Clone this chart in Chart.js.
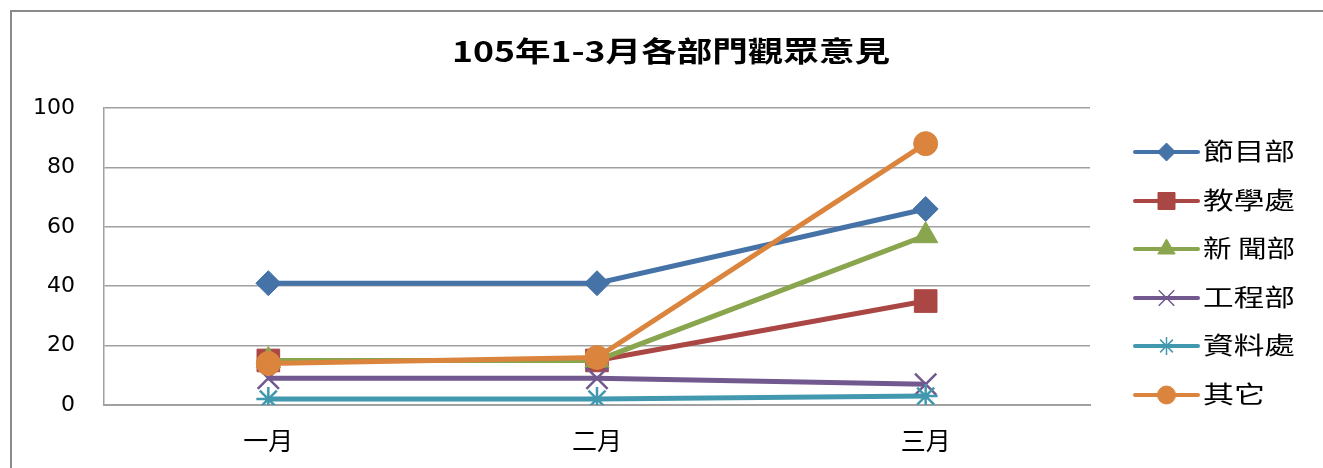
<!DOCTYPE html>
<html>
<head>
<meta charset="utf-8">
<script src="https://cdn.jsdelivr.net/npm/chart.js@4"></script>
<style>
html,body{margin:0;padding:0;background:#fff;overflow:hidden;}
#wrap{position:absolute;left:0;top:0;width:1323px;height:468px;}
</style>
</head>
<body>
<div id="wrap"><canvas id="c" width="1323" height="468"></canvas></div>
<script>
const titleText = '105年1-3月各部門觀眾意見';
const categories = ['一月', '二月', '三月'];
const seriesNames = ['節目部', '教學處', '新 聞部', '工程部', '資料處', '其它'];
const programDept = [41, 41, 66];
const teachingDept = [15, 15, 35];
const newsDept = [15, 15, 57];
const engineeringDept = [9, 9, 7];
const dataDept = [2, 2, 3];
const otherDept = [14, 16, 88];
const yTicks = [0, 20, 40, 60, 80, 100];

const seriesValues = [programDept, teachingDept, newsDept, engineeringDept, dataDept, otherDept];
const colors = ['#4572A7', '#AA4643', '#89A54E', '#71588F', '#4198AF', '#DB843D'];
const pointStyles = ['rectRot', 'rect', 'triangle', 'crossRot', 'star', 'circle'];
const pointRadii = [12.5, 16, 14, 15, 12, 12];
const legendRadii = [9, 12, 10, 11, 9, 9];

const datasets = seriesNames.map((n, i) => ({
  label: n,
  data: seriesValues[i],
  borderColor: colors[i],
  backgroundColor: colors[i],
  borderWidth: 5,
  pointStyle: pointStyles[i],
  pointRadius: pointRadii[i],
  pointHoverRadius: pointRadii[i],
  pointBorderWidth: (pointStyles[i] === 'crossRot' || pointStyles[i] === 'star') ? 2.5 : 1,
  pointBorderColor: colors[i],
  pointBackgroundColor: colors[i],
  tension: 0,
  order: seriesNames.length - 1 - i
}));

const customPlugin = {
  id: 'custom',
  afterDraw(chart) {
    const ctx = chart.ctx;
    ctx.save();
    // frame
    ctx.strokeStyle = '#8a8a8a';
    ctx.lineWidth = 2;
    ctx.beginPath();
    ctx.moveTo(11, 468);
    ctx.lineTo(11, 11);
    ctx.lineTo(1323, 11);
    ctx.stroke();
    // title
    ctx.fillStyle = '#000';
    ctx.font = 'bold 28px "Noto Sans CJK TC", sans-serif';
    ctx.textBaseline = 'middle';
    ctx.textAlign = 'left';
    const tw = ctx.measureText(titleText).width;
    const sx = 438 / tw;
    ctx.save();
    ctx.translate(452, 51);
    ctx.scale(sx, 1);
    ctx.fillText(titleText, 0, 0);
    ctx.restore();
    // legend
    const x0 = 1135, x1 = 1198, tx = 1203;
    const rowY = [152, 201, 249, 298, 346, 395];
    seriesNames.forEach((n, i) => {
      const y = rowY[i];
      ctx.strokeStyle = colors[i];
      ctx.lineWidth = 4;
      ctx.lineCap = 'round';
      ctx.beginPath();
      ctx.moveTo(x0, y);
      ctx.lineTo(x1, y);
      ctx.stroke();
      ctx.lineCap = 'butt';
      ctx.fillStyle = colors[i];
      ctx.lineWidth = (pointStyles[i] === 'crossRot' || pointStyles[i] === 'star') ? 1.5 : 1;
      Chart.helpers.drawPoint(ctx, {pointStyle: pointStyles[i], radius: legendRadii[i], rotation: 0, borderWidth: ctx.lineWidth}, (x0 + x1) / 2, y);
      ctx.fillStyle = '#000';
      ctx.font = '24px "Noto Sans CJK TC", sans-serif';
      ctx.textBaseline = 'middle';
      ctx.textAlign = 'left';
      const w = ctx.measureText(n).width;
      const target2 = n.length === 2 ? 62 : 92;
      ctx.save();
      ctx.translate(tx, y - 1);
      ctx.scale(Math.min(1.4, target2 / w), 1);
      ctx.fillText(n, 0, 0);
      ctx.restore();
    });
    ctx.restore();
  }
};

new Chart(document.getElementById('c'), {
  type: 'line',
  data: { labels: categories, datasets },
  options: {
    responsive: false,
    animation: false,
    events: [],
    layout: { padding: { top: 108, right: 233, bottom: 0, left: 0 } },
    plugins: { legend: { display: false }, title: { display: false }, tooltip: { enabled: false } },
    scales: {
      x: {
        offset: true,
        grid: { display: false, drawTicks: false },
        border: { display: true, color: '#a0a0a0', width: 2 },
        ticks: { color: '#000', font: { family: '"Noto Sans CJK TC", sans-serif', size: 25 }, padding: 20, maxRotation: 0 },
        afterFit(scale) { scale.height = 63; }
      },
      y: {
        min: 0, max: 100,
        afterBuildTicks(scale) { scale.ticks = yTicks.map(v => ({ value: v })); },
        grid: { color: '#a0a0a0', lineWidth: 1.5, drawTicks: false },
        border: { display: true, color: '#a0a0a0', width: 1.5 },
        ticks: { color: '#000', font: { family: '"DejaVu Sans", sans-serif', size: 22 }, padding: 29 },
        afterFit(scale) { scale.width = 104; }
      }
    }
  },
  plugins: [customPlugin]
});
</script>
</body>
</html>
